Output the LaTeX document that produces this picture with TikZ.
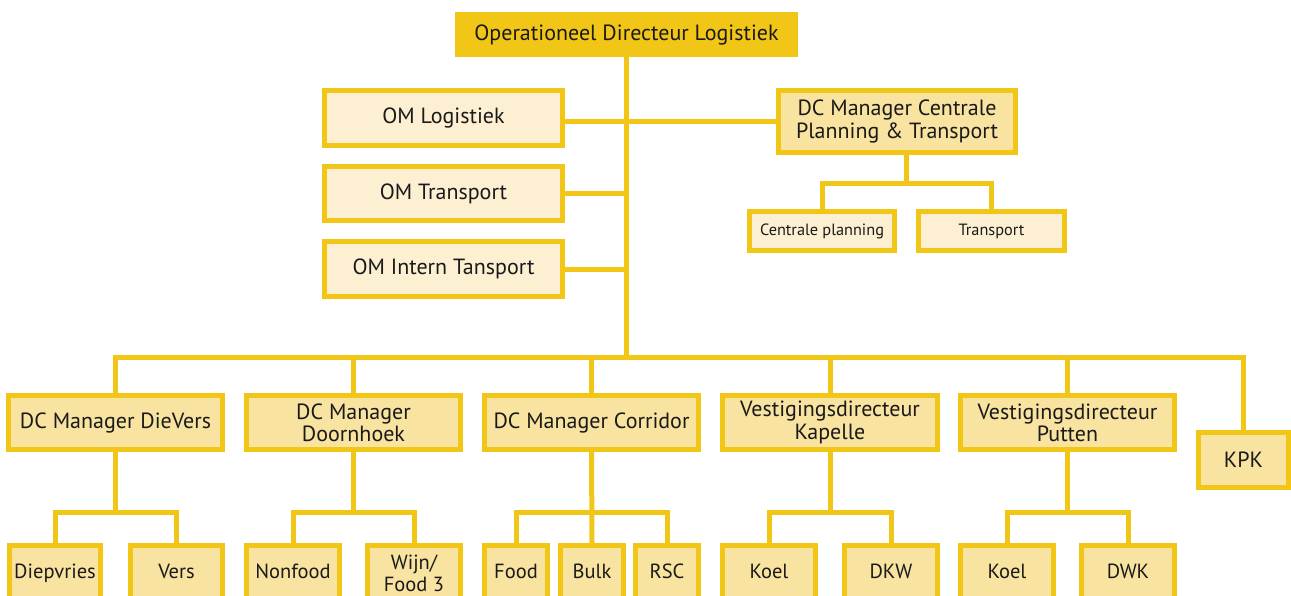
\documentclass[tikz,border=0pt]{standalone}
\usepackage{fontspec}
\setmainfont{PT Sans}
\usetikzlibrary{calc}
\definecolor{gold}{HTML}{F2C617}
\definecolor{pale}{HTML}{FDEFD2}
\definecolor{mid}{HTML}{F9E3A0}
\definecolor{ink}{HTML}{1A1A1A}
\begin{document}
\begin{tikzpicture}[x=1pt,y=-1pt,
  sz/.style n args={2}{minimum width=#1, minimum height=#2},
  box/.style={draw=gold, line width=5pt, inner sep=0pt, align=center,
    font=\fontsize{22}{22.3}\selectfont, text=ink},
  topbox/.style={box, fill=gold},
  palebox/.style={box, fill=pale},
  midbox/.style={box, fill=mid},
  lowbox/.style={box, fill=mid, font=\fontsize{20.5}{22.3}\selectfont},
  oneline/.style={text height=15pt, text depth=4.5pt},
  smallbox/.style={box, fill=pale, font=\fontsize{16.3}{18}\selectfont},
  conn/.style={draw=gold, line width=5pt}]
\useasboundingbox (0,0) rectangle (1291,595);
\clip (0,0) rectangle (1291,595);

% top
\node[topbox, sz={338pt}{40pt}] (top) at (626.5,34.5) {Operationeel Directeur Logistiek};
% staff
\node[palebox, sz={238pt}{55pt}] (om1) at (443.5,118) {OM Logistiek};
\node[palebox, sz={238pt}{54pt}] (om2) at (443.5,193.5) {OM Transport};
\node[palebox, sz={238pt}{55pt}] (om3) at (443.5,269) {OM Intern Tansport};
\node[midbox, sz={237pt}{62pt}] (dcc) at (897,121.5) {DC Manager Centrale\\Planning \& Transport};
\node[smallbox, sz={145pt}{39pt}] (cp) at (822,231) {Centrale planning};
\node[smallbox, sz={146pt}{39pt}] (tr) at (991.5,231) {Transport};

% level 2
\node[midbox, sz={214pt}{54pt}] (dv) at (115.5,422.5) {DC Manager DieVers};
\node[midbox, sz={214pt}{54pt}] (dh) at (353.5,422.5) {DC Manager\\Doornhoek};
\node[midbox, sz={214pt}{54pt}] (co) at (591.5,422.5) {DC Manager Corridor};
\node[midbox, sz={215pt}{54pt}] (ka) at (830,422.5) {Vestigingsdirecteur\\Kapelle};
\node[midbox, sz={214pt}{54pt}] (pu) at (1067.5,422.5) {Vestigingsdirecteur\\Putten};
\node[midbox, sz={90pt}{55pt}] (kpk) at (1243.5,460) {KPK};

% level 3
\node[lowbox, oneline, sz={91pt}{55pt}] (diep) at (55,573) {Diepvries};
\node[lowbox, oneline, sz={92pt}{55pt}] (vers) at (176.5,573) {Vers};
\node[lowbox, oneline, sz={93pt}{55pt}] (nonf) at (293,573) {Nonfood};
\node[lowbox, sz={93pt}{55pt}] (wijn) at (414,573) {Wijn/\\Food 3};
\node[lowbox, oneline, sz={63pt}{55pt}] (food) at (516,573) {Food};
\node[lowbox, oneline, sz={63pt}{55pt}] (bulk) at (592,573) {Bulk};
\node[lowbox, oneline, sz={63pt}{55pt}] (rsc) at (667,573) {RSC};
\node[lowbox, oneline, sz={93pt}{55pt}] (koelk) at (769,573) {Koel};
\node[lowbox, oneline, sz={93pt}{55pt}] (dkw) at (891,573) {DKW};
\node[lowbox, oneline, sz={93pt}{55pt}] (koelp) at (1007,573) {Koel};
\node[lowbox, oneline, sz={93pt}{55pt}] (dwk) at (1128,573) {DWK};

% connectors
\coordinate (bus) at (626,357);
\draw[conn] (top.south) -- (top.south |- bus);
\draw[conn] (om1.east |- dcc.west) -- (dcc.west);
\draw[conn] (om2.east) -- (om2.east -| top.south);
\draw[conn] (om3.east) -- (om3.east -| top.south);

\coordinate (cpbar) at ($(cp.north)+(0,-26)$);
\coordinate (cpmid) at ($(cp.north)!0.5!(tr.north)$);
\draw[conn] (cpmid |- dcc.south) -- (cpmid |- cpbar);
\draw[conn] (cp.north) -- (cpbar) -| (tr.north);

\draw[conn] (dv.north) |- (bus) -| (kpk.north);
\draw[conn] (dh.north) -- (dh.north |- bus);
\draw[conn] (co.north) -- (co.north |- bus);
\draw[conn] (ka.north) -- (ka.north |- bus);
\draw[conn] (pu.north) -- (pu.north |- bus);

\draw[conn] (dv.south) -- (dv.south |- 0,512);
\draw[conn] (diep.north) |- (vers.north |- 0,512) -- (vers.north);
\draw[conn] (dh.south) -- (dh.south |- 0,512);
\draw[conn] (nonf.north) |- (wijn.north |- 0,512) -- (wijn.north);
\draw[conn] (co.south) -- (bulk.north);
\draw[conn] (food.north) |- (rsc.north |- 0,512) -- (rsc.north);
\draw[conn] (ka.south) -- (ka.south |- 0,512);
\draw[conn] (koelk.north) |- (dkw.north |- 0,512) -- (dkw.north);
\draw[conn] (pu.south) -- (pu.south |- 0,512);
\draw[conn] (koelp.north) |- (dwk.north |- 0,512) -- (dwk.north);
\end{tikzpicture}
\end{document}
